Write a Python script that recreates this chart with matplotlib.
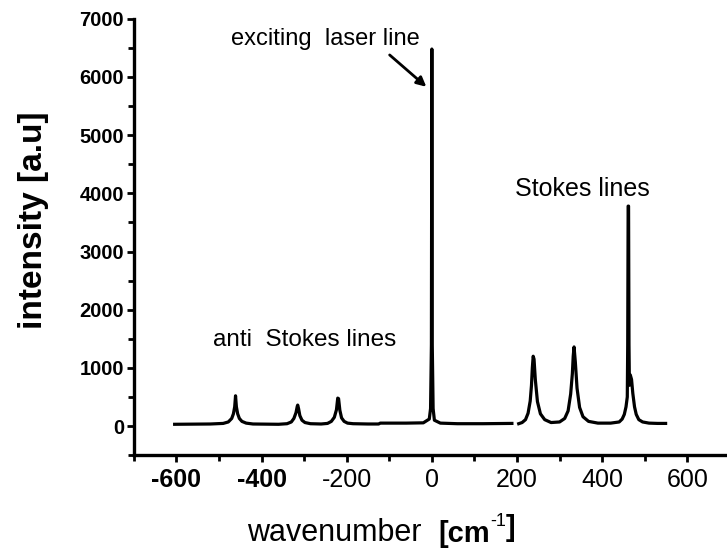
import matplotlib
matplotlib.use("Agg")
import numpy as np
import matplotlib.pyplot as plt
from matplotlib.ticker import MultipleLocator

plt.rcParams['font.family'] = ['Liberation Sans', 'DejaVu Sans']

# spectrum (wavenumber, intensity); nan = gap in trace
wavenumber = [-604, -520, -490, -478, -470, -466, -463, -461, -459, -456, -452, -446, -436, -420,
              -360, -340, -330, -324, -319, -316, -315, -313, -310, -305, -298, -285,
              -260, -245, -236, -229, -224, -221, -219, -216, -212, -206, -198, -185,
              -150, -125, -121, -60, -20, -6, -3, -1, 0, 1, 3, 6, 20, 60, 120, 188,
              np.nan, 204, 212, 220, 226, 231, 234, 236, 238, 240, 243, 248, 255, 265,
              280, 300, 312, 320, 326, 330, 332, 334, 337, 341, 347, 355, 368, 390,
              420, 440, 447, 452, 456, 459, 460, 461, 462, 463, 464, 466, 469, 472, 476,
              480, 486, 495, 510, 530, 549]
intensity = [30, 35, 45, 70, 130, 210, 330, 520, 330, 210, 130, 80, 50, 35,
             30, 40, 70, 130, 230, 340, 360, 300, 180, 100, 60, 40,
             35, 45, 80, 150, 280, 480, 470, 270, 140, 80, 50, 40,
             35, 35, 50, 50, 55, 120, 300, 1400, 6480, 1400, 300, 100, 50, 40, 40, 45,
             np.nan, 40, 60, 110, 220, 430, 700, 1000, 1200, 1150, 800, 420, 210, 110,
             60, 70, 130, 260, 550, 900, 1200, 1360, 1100, 650, 320, 160, 80, 50,
             50, 70, 120, 200, 330, 500, 1400, 3780, 3780, 1400, 700, 880, 800, 560, 330,
             200, 110, 70, 50, 45, 45]

x_ticks = [-600, -400, -200, 0, 200, 400, 600]
x_ticklabels = ['-600', '-400', '-200', '0', '200', '400', '600']
y_ticks = [0, 1000, 2000, 3000, 4000, 5000, 6000, 7000]

fig = plt.figure(figsize=(7.27, 5.53), dpi=100)
ax = fig.add_axes([0.184, 0.177, 0.82, 0.789])

ax.plot(wavenumber, intensity, color='black', lw=2.3, solid_joinstyle='round')

ax.set_xlim(-700, 700)
ax.set_ylim(-500, 7000)
ax.set_xticks(x_ticks)
ax.set_xticklabels(x_ticklabels)
ax.set_yticks(y_ticks)
ax.xaxis.set_minor_locator(MultipleLocator(100))
ax.yaxis.set_minor_locator(MultipleLocator(500))

for side in ['top', 'right']:
    ax.spines[side].set_visible(False)
for side in ['left', 'bottom']:
    ax.spines[side].set_linewidth(2.4)

ax.tick_params(which='major', direction='out', length=5, width=2)
ax.tick_params(which='minor', direction='out', length=4, width=2)
ax.tick_params(axis='x', labelsize=18, pad=4)
ax.tick_params(axis='y', labelsize=14.5, pad=2)
for lab in ax.get_yticklabels():
    lab.set_fontweight('bold')
xl = ax.get_xticklabels()
xl[0].set_fontweight('bold')
xl[1].set_fontweight('bold')

fig.text(34 / 727, 1 - 220 / 553, 'intensity [a.u]', fontsize=24, fontweight='bold',
         rotation=90, ha='center', va='center')

t1 = ax.annotate('wavenumber  ', xy=(0.603, 0.022), xycoords='figure fraction',
                 fontsize=22, ha='right', va='baseline', annotation_clip=False)
t2 = ax.annotate('[cm', xy=(1, 0), xycoords=t1, fontsize=21, fontweight='bold',
                 ha='left', va='bottom', annotation_clip=False)
t3 = ax.annotate('-1', xy=(1, 0.62), xycoords=t2, fontsize=13, ha='left', va='bottom',
                 annotation_clip=False)
ax.annotate(']', xy=(1, 0), xycoords=t3, xytext=(0, -8.5), textcoords='offset points',
            fontsize=21, fontweight='bold', ha='left', va='bottom', annotation_clip=False)

ax.text(-250, 6660, 'exciting  laser line', fontsize=17, ha='center', va='center')
ax.text(-298, 1480, 'anti  Stokes lines', fontsize=17.5, ha='center', va='center')
ax.text(353, 4070, 'Stokes lines', fontsize=18, ha='center', va='center')
ax.annotate('', xy=(-8, 5800), xytext=(-104, 6410),
            arrowprops=dict(arrowstyle='-|>', color='black', lw=2, mutation_scale=14))

fig.savefig('out.png', dpi=100)
